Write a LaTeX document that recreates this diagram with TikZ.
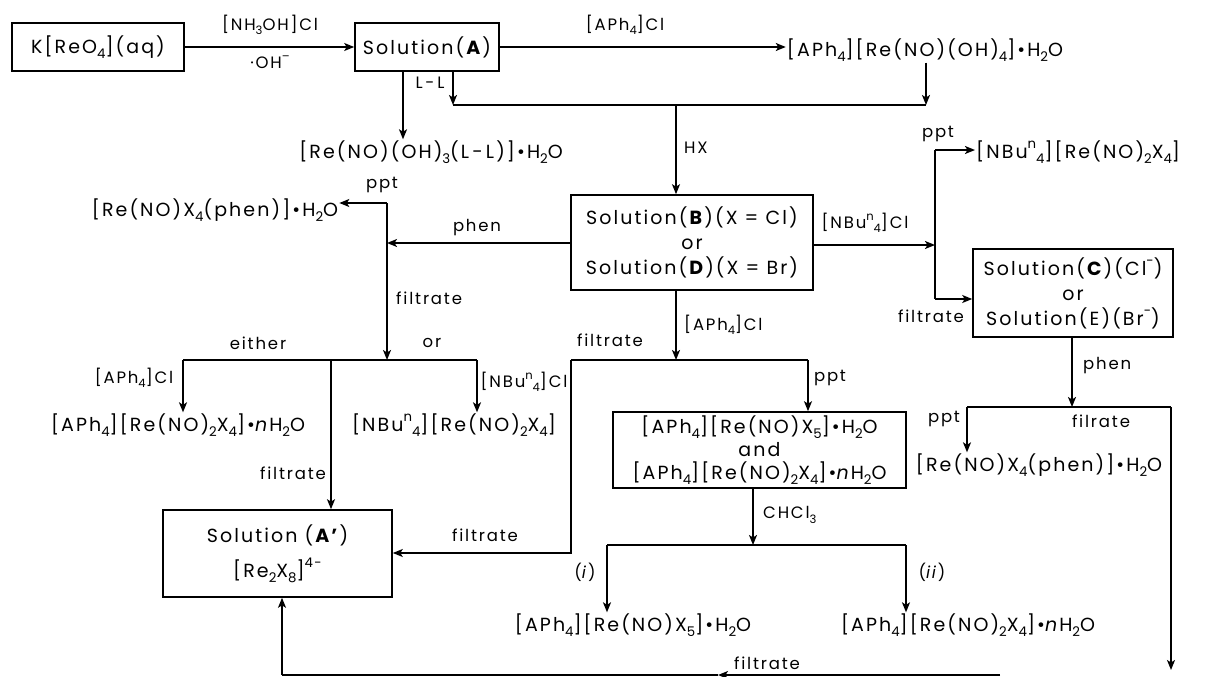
\documentclass[tikz,border=0pt]{standalone}
\usepackage{fontspec}
\setmainfont{Poppins}[LetterSpace=11]
\usetikzlibrary{arrows.meta}
\makeatletter
\newcommand{\sbs}[1]{\raisebox{-0.5ex}{\fontsize{\the\dimexpr\f@size pt*7/10\relax}{0pt}\selectfont #1}}
\newcommand{\sps}[1]{\raisebox{0.9ex}{\fontsize{\the\dimexpr\f@size pt*7/10\relax}{0pt}\selectfont #1}}
\makeatother
\begin{document}
\begin{tikzpicture}[x=1pt,y=-1pt,
  lw/.style={line width=1.6pt},
  arr/.style={lw,-{Stealth[length=10pt,width=8pt,inset=2.5pt]}},
  box/.style={draw,lw,align=center,inner sep=0pt,font=\fontsize{19}{25}\selectfont},
  txt/.style={inner sep=1pt,font=\fontsize{19}{22}\selectfont},
  lbl/.style={inner sep=1pt,font=\fontsize{16.5}{18}\selectfont}]
\useasboundingbox (0,0) rectangle (1205,677);
% boxes
\node[box,minimum width=172pt,minimum height=48pt] (K) at (98,47) {K[ReO\sbs{4}](aq)};
\node[box,minimum width=144pt,minimum height=48pt] (SA) at (427,47) {Solution(\textbf{A})};
\node[box,minimum width=242pt,minimum height=95pt] (SB) at (692,242.5) {Solution(\textbf{B})(X = Cl)\\or\\Solution(\textbf{D})(X = Br)};
\node[box,minimum width=200pt,minimum height=88pt] (SC) at (1073,293) {Solution(\textbf{C})(Cl\sps{-})\\or\\Solution(E)(Br\sps{-})};
\node[box,minimum width=229pt,minimum height=87pt] (Ap) at (277.5,553.5) {Solution (\textbf{A'})\\[10pt][Re\sbs{2}X\sbs{8}]\sps{4-}};
\node[box,minimum width=293pt,minimum height=76pt,font=\fontsize{19}{23}\selectfont] (Mx) at (759.5,450) {[APh\sbs{4}][Re(NO)X\sbs{5}]•H\sbs{2}O\\and\\{}[APh\sbs{4}][Re(NO)\sbs{2}X\sbs{4}]•\textit{n}H\sbs{2}O};
% products
\node[txt] (P1) at (925,50) {[APh\sbs{4}][Re(NO)(OH)\sbs{4}]•H\sbs{2}O};
\node[txt] (P2) at (431,152) {[Re(NO)(OH)\sbs{3}(L\,-\,L)]•H\sbs{2}O};
\node[txt] (P3) at (215,210) {[Re(NO)X\sbs{4}(phen)]•H\sbs{2}O};
\node[txt,anchor=west] (P4) at (975,152) {[NBu\sps{n}\sbs{4}][Re(NO)\sbs{2}X\sbs{4}]};
\node[txt] (P5) at (178,425) {[APh\sbs{4}][Re(NO)\sbs{2}X\sbs{4}]•\textit{n}H\sbs{2}O};
\node[txt] (P6) at (454,425) {[NBu\sps{n}\sbs{4}][Re(NO)\sbs{2}X\sbs{4}]};
\node[txt] (P7) at (1039,465) {[Re(NO)X\sbs{4}(phen)]•H\sbs{2}O};
\node[txt] (P8) at (633,625) {[APh\sbs{4}][Re(NO)X\sbs{5}]•H\sbs{2}O};
\node[txt] (P9) at (968,625) {[APh\sbs{4}][Re(NO)\sbs{2}X\sbs{4}]•\textit{n}H\sbs{2}O};
% coordinates
\coordinate (ll) at (403,0);
\coordinate (J1) at (453,105);
\coordinate (J2) at (926,105);
\coordinate (JH) at (676,105);
\coordinate (Ph) at (387,243);
\coordinate (PhT) at (387,203);
\coordinate (PhB) at (387,360);
\coordinate (EL) at (183,360);
\coordinate (EM) at (331,360);
\coordinate (ER) at (477,360);
\coordinate (FL) at (571,360);
\coordinate (FB) at (676,360);
\coordinate (FR) at (808,360);
\coordinate (FD) at (571,553);
\coordinate (CU) at (753,488);
\coordinate (CH) at (753,545);
\coordinate (CL) at (607,545);
\coordinate (CR) at (906,545);
\coordinate (NR) at (935,245);
\coordinate (NT) at (935,150);
\coordinate (NB) at (935,299);
\coordinate (SCb) at (1072,407);
\coordinate (SL) at (967,407);
\coordinate (SR) at (1171,407);
\coordinate (SRe) at (1171,670);
\coordinate (BR) at (1000,675);
\coordinate (BM) at (718,675);
\coordinate (BL) at (282,675);
% connectors
\draw[arr] (K.east) -- (K.east -| SA.west);
\draw[arr] (SA.east) -- (SA.east -| P1.west);
\draw[arr] (ll |- SA.south) -- (ll |- P2.north);
\draw[arr] (J1 |- SA.south) -- (J1);
\draw[arr] (J2 |- P1.south) -- (J2);
\draw[lw] (J1) -- (J2);
\draw[arr] (JH) -- (JH |- SB.north);
\draw[arr] (SB.west |- Ph) -- (Ph);
\draw[arr] (PhT) -- (PhT -| P3.east);
\draw[arr] (PhT) -- (PhB);
\draw[lw] (EL) -- (ER);
\draw[arr] (EL) -- (EL |- P5.north);
\draw[arr] (EM) -- (EM |- Ap.north);
\draw[arr] (ER) -- (ER |- P6.north);
\draw[arr] (FB |- SB.south) -- (FB);
\draw[lw] (FL) -- (FR);
\draw[arr] (FR) -- (FR |- Mx.north);
\draw[arr] (FL) -- (FD) -- (FD -| Ap.east);
\draw[arr] (CU) -- (CH);
\draw[lw] (CL) -- (CR);
\draw[arr] (CL) -- (CL |- P8.north);
\draw[arr] (CR) -- (CR |- P9.north);
\draw[arr] (SB.east |- NR) -- (NR);
\draw[arr] (NT) -- (NT -| P4.west);
\draw[lw] (NT) -- (NB);
\draw[arr] (NB) -- (NB -| SC.west);
\draw[arr] (SCb |- SC.south) -- (SCb);
\draw[lw] (SL) -- (SR);
\draw[arr] (SL) -- (SL |- P7.north);
\draw[arr] (SR) -- (SRe);
\draw[arr] (BR) -- (BM);
\draw[lw] (BM) -- (BL);
\draw[arr] (BL) -- (BL |- Ap.south);
% labels
\node[lbl] (l1) at (270,25) {[NH\sbs{3}OH]Cl};
\node[lbl] (l2) at (270,62) {·OH\sps{–}};
\node[lbl] (l3) at (625,25) {[APh\sbs{4}]Cl};
\node[lbl] (l4) at (430,83) {L\,-\,L};
\node[lbl,anchor=west] (l5) at (683,148) {HX};
\node[lbl] (l6) at (382,185) {ppt};
\node[lbl] (l7) at (477,228) {phen};
\node[lbl,anchor=west] (l8) at (395,298) {filtrate};
\node[lbl] (l9) at (258,343) {either};
\node[lbl] (l10) at (432,343) {or};
\node[lbl] (l11) at (134,378) {[APh\sbs{4}]Cl};
\node[lbl] (l12) at (524,382) {[NBu\sps{n}\sbs{4}]Cl};
\node[lbl] (l13) at (293,473) {filtrate};
\node[lbl] (l14) at (610,340) {filtrate};
\node[lbl,anchor=west] (l15) at (683,325) {[APh\sbs{4}]Cl};
\node[lbl] (l16) at (830,378) {ppt};
\node[lbl] (l17) at (485,535) {filtrate};
\node[lbl,anchor=west] (l18) at (762,515) {CHCl\sbs{3}};
\node[lbl] (l19) at (585,572) {(\textit{i})};
\node[lbl] (l20) at (932,572) {(\textit{ii})};
\node[lbl] (l21) at (865,223) {[NBu\sps{n}\sbs{4}]Cl};
\node[lbl] (l22) at (938,134) {ppt};
\node[lbl] (l23) at (931,316) {filtrate};
\node[lbl,anchor=west] (l24) at (1082,366) {phen};
\node[lbl] (l25) at (944,419) {ppt};
\node[lbl] (l26) at (1101,421) {filrate};
\node[lbl] (l27) at (767,663) {filtrate};
\end{tikzpicture}
\end{document}
